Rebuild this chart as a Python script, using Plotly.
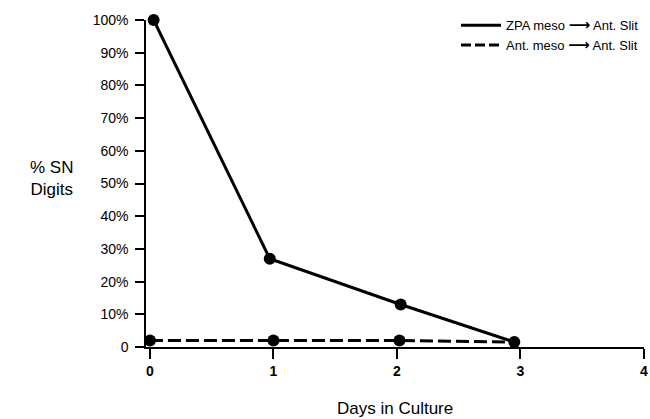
import plotly.graph_objects as go

days_zpa = [0.03, 0.97, 2.03, 2.95]
pct_zpa = [100, 27, 13, 1.5]
days_ant = [0.0, 1.0, 2.02, 2.95]
pct_ant = [2, 2, 2, 1.5]
ant_marker_days = [0.0, 1.0, 2.02]
ant_marker_pct = [2, 2, 2]

x_ticks = [0, 1, 2, 3, 4]
y_ticks = [0, 10, 20, 30, 40, 50, 60, 70, 80, 90, 100]
y_labels = ["0"] + [f"{v}%" for v in y_ticks[1:]]

font = "Liberation Sans, Arial, sans-serif"
arrow = "<span style='font-family:DejaVu Sans;font-size:15px;font-weight:bold'>⟶</span>"

fig = go.Figure()
fig.add_trace(go.Scatter(x=days_ant, y=pct_ant, mode="lines",
                         line=dict(color="black", width=3, dash="13px,5px"),
                         showlegend=False, cliponaxis=False))
fig.add_trace(go.Scatter(x=ant_marker_days, y=ant_marker_pct, mode="markers",
                         marker=dict(color="black", size=12),
                         showlegend=False, cliponaxis=False))
fig.add_trace(go.Scatter(x=days_zpa, y=pct_zpa, mode="lines+markers",
                         line=dict(color="black", width=3),
                         marker=dict(color="black", size=12),
                         showlegend=False, cliponaxis=False))
# legend entries
fig.add_trace(go.Scatter(x=[None], y=[None], mode="lines",
                         line=dict(color="black", width=3),
                         name=f"ZPA meso {arrow} Ant. Slit"))
fig.add_trace(go.Scatter(x=[None], y=[None], mode="lines",
                         line=dict(color="black", width=3, dash="10px,4px"),
                         name=f"Ant. meso {arrow} Ant. Slit"))

fig.update_layout(
    width=650, height=419,
    margin=dict(l=146, r=6, t=20, b=72, autoexpand=False),
    paper_bgcolor="white", plot_bgcolor="white",
    font=dict(family=font, color="black"),
    legend=dict(x=1.0, xanchor="right", y=1.03, yanchor="top",
                font=dict(size=13), bgcolor="rgba(0,0,0,0)",
                tracegroupgap=0, itemwidth=40),
    xaxis=dict(range=[-0.032, 4], tickvals=x_ticks, ticktext=[str(v) for v in x_ticks],
               automargin=False,
               showgrid=False, zeroline=False, showline=True, linecolor="black",
               linewidth=1.5, ticks="outside", ticklen=10, tickwidth=1.5,
               tickcolor="black", tickfont=dict(size=14, family="Liberation Sans, Arial", weight="bold")),
    yaxis=dict(range=[0, 100], tickvals=y_ticks, ticktext=y_labels,
               automargin=False, ticklabelstandoff=4,
               showgrid=False, zeroline=False, showline=True, linecolor="black",
               linewidth=1.5, ticks="outside", ticklen=9, tickwidth=1.5,
               tickcolor="black", tickfont=dict(size=14)),
    shapes=[dict(type="line", xref="paper", yref="y", x0=-0.02, x1=0, y0=0, y1=0,
                 line=dict(color="black", width=1.5))],
    annotations=[
        dict(text="% SN<br>Digits", xref="paper", yref="paper",
             x=-0.189, y=0.515, xanchor="center", yanchor="middle",
             showarrow=False, font=dict(size=17), align="center"),
        dict(text="Days in Culture", xref="paper", yref="paper",
             x=0.5, y=-0.187, xanchor="center", yanchor="middle",
             showarrow=False, font=dict(size=17)),
    ],
)

fig.write_html("out.html", config={"displayModeBar": False},
               post_script="document.body.style.margin='0px';document.body.style.overflow='hidden';")
